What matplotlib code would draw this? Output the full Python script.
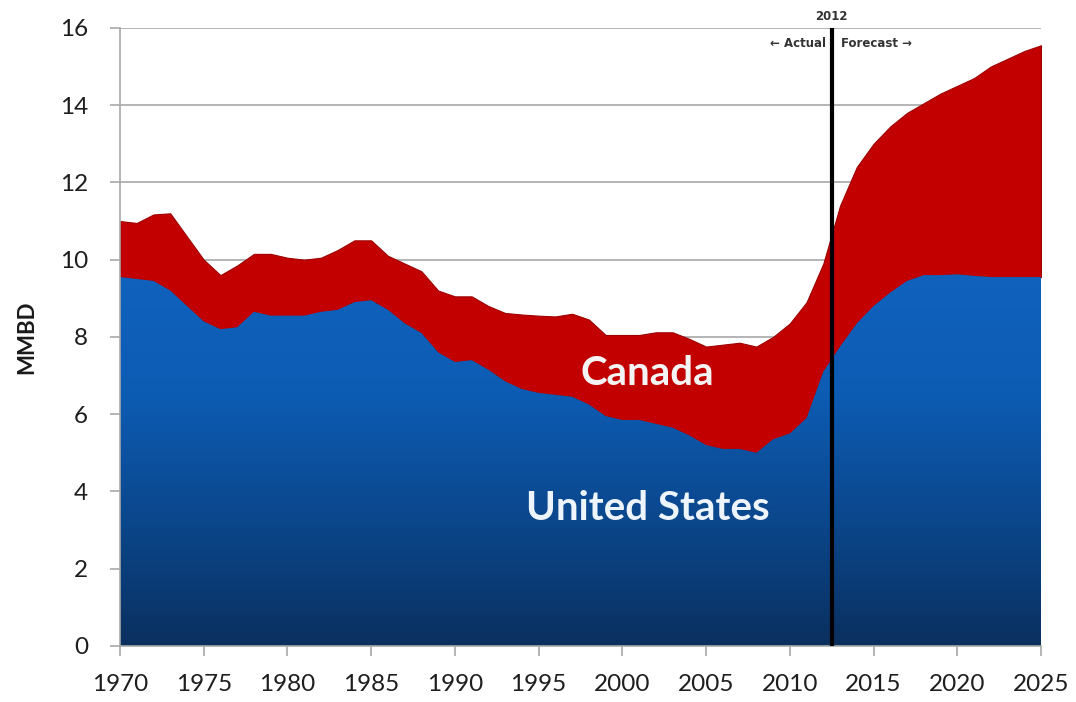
import numpy as np
import matplotlib
matplotlib.use("Agg")
import matplotlib.pyplot as plt
from matplotlib.colors import LinearSegmentedColormap

plt.rcParams['font.family'] = ['Lato', 'DejaVu Sans']

# Crude oil production, million barrels per day
years = list(range(1970, 2026))
united_states = [
    9.55, 9.50, 9.45, 9.20, 8.80, 8.40, 8.20, 8.25, 8.65, 8.55,
    8.55, 8.55, 8.65, 8.70, 8.90, 8.95, 8.70, 8.35, 8.10, 7.60,
    7.35, 7.40, 7.15, 6.85, 6.65, 6.55, 6.50, 6.45, 6.25, 5.95,
    5.85, 5.85, 5.75, 5.65, 5.45, 5.20, 5.10, 5.10, 5.00, 5.35,
    5.50, 5.90, 7.10, 7.75, 8.35, 8.80, 9.15, 9.45, 9.60, 9.60,
    9.62, 9.58, 9.55, 9.55, 9.55, 9.55,
]
canada = [
    1.45, 1.45, 1.72, 2.00, 1.80, 1.60, 1.40, 1.60, 1.50, 1.60,
    1.50, 1.45, 1.40, 1.55, 1.60, 1.55, 1.40, 1.55, 1.60, 1.60,
    1.70, 1.65, 1.65, 1.77, 1.93, 2.00, 2.03, 2.15, 2.20, 2.10,
    2.20, 2.20, 2.37, 2.47, 2.50, 2.55, 2.70, 2.75, 2.75, 2.65,
    2.85, 3.00, 2.80, 3.65, 4.05, 4.20, 4.30, 4.35, 4.45, 4.70,
    4.88, 5.12, 5.45, 5.65, 5.85, 6.00,
]
y_ticks = [0, 2, 4, 6, 8, 10, 12, 14, 16]
x_ticks = list(range(1970, 2026, 5))
split_year = 2012.5

fig = plt.figure(figsize=(10.76, 7.02), dpi=100)
ax = fig.add_axes([0.1115, 0.0798, 0.856, 0.8805])

polys = ax.stackplot(years, united_states, canada,
                     colors=['none', '#c20000'], zorder=2)
polys[1].set_edgecolor('#9e0000')
polys[1].set_linewidth(0.8)
polys[0].set_edgecolor('none')

# vertical blue gradient for the US area
blue_cmap = LinearSegmentedColormap.from_list(
    'us_blue', ['#0a305f', '#0b478c', '#0d5cb4', '#1062bd'])
grad = np.linspace(0, 1, 256).reshape(-1, 1)
img = ax.imshow(grad, cmap=blue_cmap, origin='lower', aspect='auto',
                extent=[years[0], years[-1], 0, max(united_states) + 0.2],
                zorder=2, interpolation='bicubic')
us_path = polys[0].get_paths()[0]
img.set_clip_path(us_path, transform=ax.transData)

ax.set_xlim(years[0], years[-1])
ax.set_ylim(0, 16)
ax.set_yticks(y_ticks)
ax.set_xticks(x_ticks)

ax.yaxis.grid(True, color='#a8a8a8', linewidth=1.2, zorder=0)
ax.set_axisbelow(True)
for side in ('top', 'right'):
    ax.spines[side].set_visible(False)
for side in ('left', 'bottom'):
    ax.spines[side].set_color('#a8a8a8')
    ax.spines[side].set_linewidth(1.2)
    ax.spines[side].set_zorder(3)

ax.tick_params(axis='both', colors='#a8a8a8', labelcolor='#1e1e1e',
               labelsize=17.5, length=7, width=1.2, direction='out')
ax.tick_params(axis='y', pad=16)
ax.tick_params(axis='x', pad=13)

ax.set_ylabel('MMBD', fontsize=16, fontweight='bold', color='#1a1a1a',
              labelpad=16)

# actual / forecast divider
ax.axvline(split_year, color='black', linewidth=3, zorder=4)
ax.text(split_year, 16.3, '2012', ha='center', va='center',
        fontsize=8.5, fontweight='bold', color='#333333',
        family=['DejaVu Sans'])
ax.text(split_year - 0.35, 15.6, '\u2190 Actual', ha='right', va='center',
        fontsize=8.5, fontweight='bold', color='#333333',
        family=['DejaVu Sans'])
ax.text(split_year + 0.55, 15.6, 'Forecast \u2192', ha='left', va='center',
        fontsize=8.5, fontweight='bold', color='#333333',
        family=['DejaVu Sans'])

ax.text(2001.5, 7.05, 'Canada', ha='center', va='center', fontsize=29,
        fontweight='bold', color='#f4f4f4', zorder=5)
ax.text(2001.5, 3.55, 'United States', ha='center', va='center',
        fontsize=29, fontweight='bold', color='#eef4fb', zorder=5)

fig.savefig('out.png', dpi=100)
